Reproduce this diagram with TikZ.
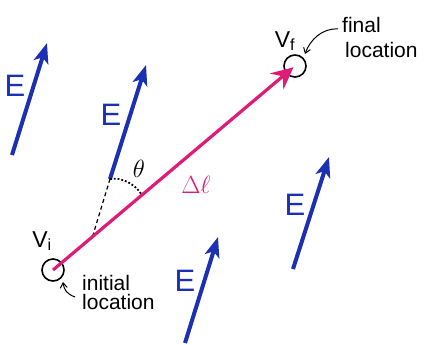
\documentclass[tikz,border=0pt]{standalone}
\usepackage{fontspec}
\setmainfont{Liberation Sans}
\usetikzlibrary{arrows.meta}
\definecolor{eblue}{RGB}{28,48,178}
\definecolor{dpink}{RGB}{222,28,118}
\begin{document}
\begin{tikzpicture}[x=1pt,y=-1pt,
  efield/.style={draw=eblue, line width=4pt, -{Stealth[length=20pt,width=15pt,inset=5pt]}},
  elabel/.style={text=eblue, font=\fontsize{31}{31}\selectfont, inner sep=0pt},
  loc/.style={draw, circle, line width=1.6pt, minimum size=22pt, inner sep=0pt},
  note/.style={font=\fontsize{21}{21}\selectfont, inner sep=0pt, anchor=base west},
  vlabel/.style={font=\fontsize{23}{23}\selectfont, inner sep=0pt},
  pointer/.style={draw, line width=1pt, -{Straight Barb[length=5pt,width=7pt]}},
]
\useasboundingbox (0,0) rectangle (426,345);

% E-field arrows
\coordinate (e1s) at (12,155);  \coordinate (e1t) at (47,43);
\coordinate (e2s) at (110,179); \coordinate (e2t) at (146,65);
\coordinate (e3s) at (185,343); \coordinate (e3t) at (218,237);
\coordinate (e4s) at (293,269); \coordinate (e4t) at (329,157);
\draw[efield] (e1s) -- (e1t);
\draw[efield] (e2s) -- (e2t);
\draw[efield] (e3s) -- (e3t);
\draw[efield] (e4s) -- (e4t);
\node[elabel] (E1) at (15,86) {E};
\node[elabel] (E2) at (111,115) {E};
\node[elabel] (E3) at (185,281) {E};
\node[elabel] (E4) at (295,205) {E};

% angle construction
\coordinate (dend) at (93,235);
\coordinate (arcend) at (142,195);
\draw[dashed, line width=1.2pt, dash pattern=on 4pt off 3pt] (e2s) -- (dend);
\draw[dotted, line width=1.8pt] (e2s) .. controls (122,177) and (135,184) .. (arcend);
\node[font=\fontsize{25}{25}\selectfont, inner sep=0pt] (theta) at (139,169) {$\theta$};

% locations
\node[loc] (vi) at (53,270) {};
\node[loc] (vf) at (295,66) {};
\draw[dpink, line width=3.2pt, shorten >=2pt, -{Stealth[length=22pt,width=21pt,inset=8pt]}] (vi.center) -- (vf.center);
\node[text=dpink, font=\fontsize{32}{32}\selectfont, inner sep=0pt] (dl) at (196,185) {$\Delta\ell$};

\node[vlabel] (vil) at (42,241) {V\textsubscript{i}};
\node[vlabel] (vfl) at (285,41) {V\textsubscript{f}};

% notes
\node[note] (fin) at (342,33) {final};
\node[note] (finloc) at (345,58) {location};
\node[note] (ini) at (82,290) {initial};
\node[note] (iniloc) at (82,309) {location};

\coordinate (fstart) at (338,29);
\coordinate (fend) at (305,54);
\draw[pointer] (fstart) .. controls (322,28) and (310,40) .. (fend);
\coordinate (istart) at (75,297);
\coordinate (iend) at (63,282);
\draw[pointer] (istart) .. controls (67,294) and (64,290) .. (iend);
\end{tikzpicture}
\end{document}
